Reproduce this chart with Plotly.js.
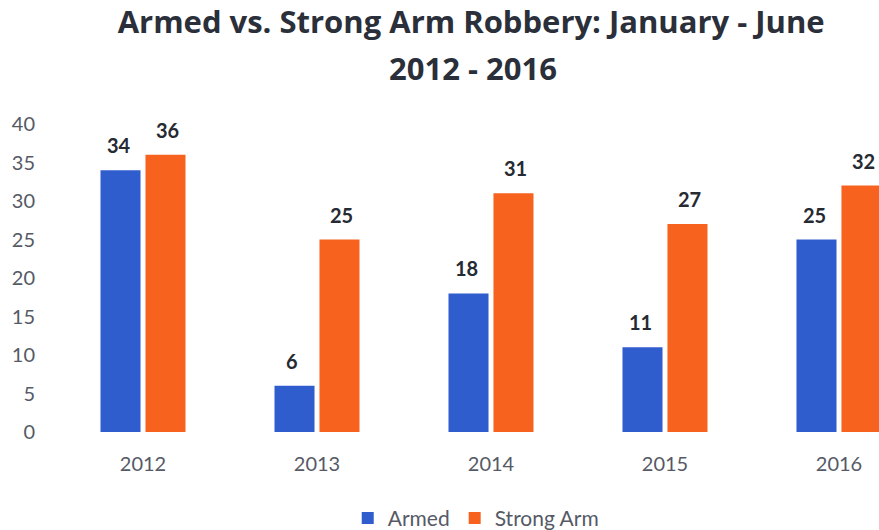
<!DOCTYPE html>
<html>
<head>
<meta charset="utf-8">
<script src="https://cdn.plot.ly/plotly-3.0.1.min.js"></script>
<style>html,body{margin:0;padding:0;background:#fff}#chart{width:879px;height:530px}</style>
</head>
<body>
<div id="chart"></div>
<script>
const years = ['2012', '2013', '2014', '2015', '2016'];
const armed = [34, 6, 18, 11, 25];
const strongArm = [36, 25, 31, 27, 32];
const yTicks = [0, 5, 10, 15, 20, 25, 30, 35, 40];
const seriesNames = ['Armed', 'Strong Arm'];

const labelFont = {family: 'Lato, "Open Sans", sans-serif', size: 20, color: '#252a33', weight: 'bold'};
const titleFont = {family: '"Open Sans", sans-serif', size: 31, color: '#2a2f3a', weight: 'bold'};

const traces = [
  {type: 'bar', name: seriesNames[0], x: years, y: armed, marker: {color: '#2f5dce'}},
  {type: 'bar', name: seriesNames[1], x: years, y: strongArm, marker: {color: '#f7621f'}}
];

const valueLabels = [];
[armed, strongArm].forEach((series, s) => {
  series.forEach((v, i) => {
    valueLabels.push({text: '<b>' + v + '</b>', x: i, y: v, xref: 'x', yref: 'y',
      xshift: s === 0 ? -24.5 : 24.5, yshift: 25, yanchor: 'middle', xanchor: 'center',
      showarrow: false, font: labelFont});
  });
});

const layout = {
  width: 879, height: 530,
  paper_bgcolor: '#ffffff', plot_bgcolor: '#ffffff',
  margin: {l: 56, r: 0, t: 124, b: 98, autoexpand: false},
  font: {family: 'Lato, "Open Sans", sans-serif', color: '#555a66'},
  title: {text: 'Armed vs. Strong Arm Robbery: January - June', x: 0.536, xanchor: 'center', y: 0.958, yanchor: 'middle',
          font: titleFont},
  annotations: [{text: '2012 - 2016', xref: 'paper', yref: 'paper', x: 0.507, xanchor: 'center',
                 y: 1.182, yanchor: 'middle', showarrow: false, font: titleFont}].concat(valueLabels),
  barmode: 'group', bargap: 0.483, bargroupgap: 0.11,
  xaxis: {type: 'category', range: [-0.5, 4.23], showline: false, showgrid: false, zeroline: false,
          ticks: '', tickfont: {size: 20, color: '#555a66'}, ticklabelstandoff: 18},
  yaxis: {range: [0, 40], tickvals: yTicks, showline: false, showgrid: false, zeroline: false,
          ticks: '', tickfont: {size: 20, color: '#555a66'}, ticklabelstandoff: 20},
  showlegend: true,
  legend: {orientation: 'h', x: 0.510, xanchor: 'center', y: -0.28, yanchor: 'middle',
           font: {size: 21, color: '#555a66'}, itemwidth: 30, traceorder: 'normal'}
};

Plotly.newPlot('chart', traces, layout, {staticPlot: true, displayModeBar: false});
</script>
</body>
</html>
